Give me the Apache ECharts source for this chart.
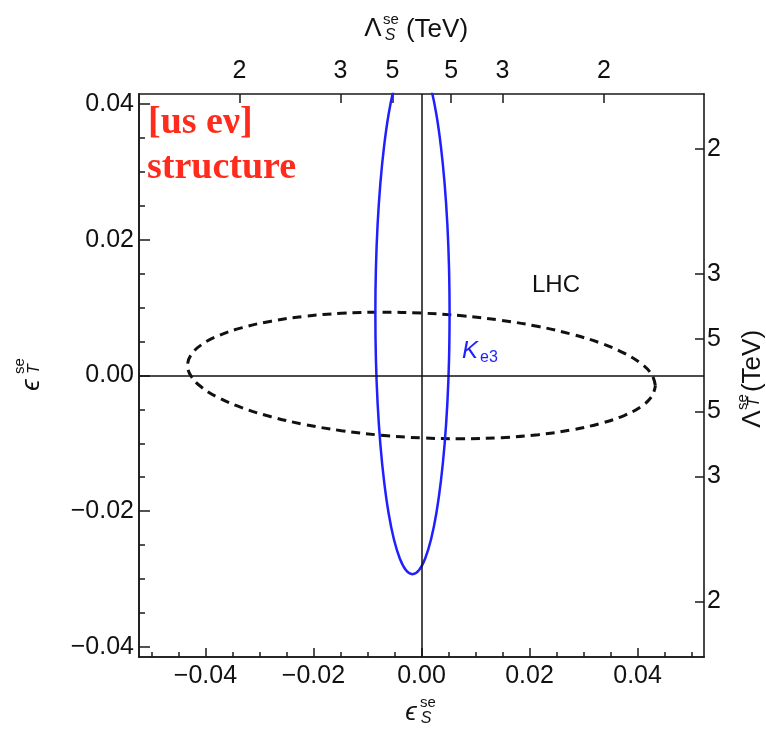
<!DOCTYPE html>
<html>
<head>
<meta charset="utf-8">
<script src="https://cdn.jsdelivr.net/npm/echarts@6/dist/echarts.min.js"></script>
<style>html,body{margin:0;padding:0;background:#fff}#c{width:766px;height:736px}</style>
</head>
<body>
<div id="c"></div>
<script>
// ---- data ----
const xMajorTicks = [-0.04, -0.02, 0, 0.02, 0.04];
const xMinorTicks = [-0.05, -0.045, -0.04, -0.035, -0.03, -0.025, -0.02, -0.015, -0.01, -0.005, 0,
                     0.005, 0.01, 0.015, 0.02, 0.025, 0.03, 0.035, 0.04, 0.045, 0.05];
const yMajorTicks = [-0.04, -0.02, 0, 0.02, 0.04];
const yMinorTicks = [-0.04, -0.035, -0.03, -0.025, -0.02, -0.015, -0.01, -0.005, 0,
                     0.005, 0.01, 0.015, 0.02, 0.025, 0.03, 0.035, 0.04];
const lambdaSLabels = ['2', '3', '5', '5', '3', '2'];
const lambdaSPos = [-0.0337, -0.0150, -0.0054, 0.0055, 0.0150, 0.0338];
const lambdaTLabels = ['2', '3', '5', '5', '3', '2'];
const lambdaTPos = [0.0334, 0.0150, 0.0054, -0.0053, -0.0149, -0.0333];

// LHC contour (dashed)
const lhcX = [0.0433, 0.04264, 0.04069, 0.0375, 0.03317, 0.02783, 0.02165, 0.01481, 0.00752, 0,
  -0.00752, -0.01481, -0.02165, -0.02783, -0.03317, -0.0375, -0.04069, -0.04264, -0.0433,
  -0.04264, -0.04069, -0.0375, -0.03317, -0.02783, -0.02165, -0.01481, -0.00752, 0,
  0.00752, 0.01481, 0.02165, 0.02783, 0.03317, 0.0375, 0.04069, 0.04264, 0.0433];
const lhcY = [-0.0015, 0.00012, 0.00174, 0.0033, 0.00477, 0.00608, 0.00722, 0.00813, 0.0088, 0.0092,
  0.00932, 0.00916, 0.00872, 0.00801, 0.00706, 0.0059, 0.00456, 0.00307, 0.0015,
  -0.00012, -0.00174, -0.0033, -0.00477, -0.00608, -0.00722, -0.00813, -0.0088, -0.0092,
  -0.00932, -0.00916, -0.00872, -0.00801, -0.00706, -0.0059, -0.00456, -0.00307, -0.0015];

// K_e3 contour (blue)
const ke3X = [0.0052, 0.0051, 0.00479, 0.00428, 0.00359, 0.00275, 0.00177, 0.00068, -0.00048, -0.00167,
  -0.00286, -0.00402, -0.00511, -0.00609, -0.00693, -0.00762, -0.00813, -0.00844, -0.00854,
  -0.00844, -0.00813, -0.00762, -0.00693, -0.00609, -0.00511, -0.00402, -0.00286, -0.00167,
  -0.00048, 0.00068, 0.00177, 0.00275, 0.00359, 0.00428, 0.00479, 0.0051, 0.0052];
const ke3Y = [0.0091, 0.01577, 0.02223, 0.0283, 0.03378, 0.03851, 0.04235, 0.04518, 0.04692, 0.0475,
  0.04692, 0.04518, 0.04235, 0.03851, 0.03378, 0.0283, 0.02223, 0.01577, 0.0091,
  0.00243, -0.00403, -0.0101, -0.01558, -0.02031, -0.02415, -0.02698, -0.02872, -0.0293,
  -0.02872, -0.02698, -0.02415, -0.02031, -0.01558, -0.0101, -0.00403, 0.00243, 0.0091];

const xMin = -0.0523, xMax = 0.0523, yMin = -0.0415, yMax = 0.0415;

// ---- chart ----
const FONT = '"Liberation Sans", Arial, Helvetica, sans-serif';
const SERIF = '"Liberation Serif", "Times New Roman", serif';
const AX = '#1a1a1a';
const zip = (a, b) => a.map((v, i) => [v, b[i]]);
const numFmt = v => {
  const r = Math.round(v * 100) / 100;
  if (r === 0) return '0.00';
  return (r < 0 ? '\u2212' : '') + Math.abs(r).toFixed(2);
};
const lookup = (pos, labels) => v => {
  let best = 0, d = Infinity;
  pos.forEach((p, i) => { const dd = Math.abs(p - v); if (dd < d) { d = dd; best = i; } });
  return labels[best];
};
const lineAx = { show: true, onZero: false, lineStyle: { color: AX, width: 1.6 } };
const lbl = { fontFamily: FONT, fontSize: 25, color: '#111' };
const txt = (x, y, text, font, fill, extra) => Object.assign({
  type: 'text', x: x, y: y,
  style: { text: text, font: font, fill: fill || '#111', textAlign: 'center', textVerticalAlign: 'middle', align: 'center', verticalAlign: 'middle' }
}, extra || {});
const R = { rotation: Math.PI / 2 };

const chart = echarts.init(document.getElementById('c'), null, { renderer: 'canvas' });
chart.setOption({
  animation: false,
  backgroundColor: '#fff',
  grid: { left: 139, top: 94, width: 565, height: 563, containLabel: false, outerBoundsMode: 'none' },
  xAxis: [
    { type: 'value', position: 'bottom', min: xMin, max: xMax, axisLine: lineAx,
      axisTick: { show: true, inside: true, length: 9, customValues: xMajorTicks, lineStyle: { color: AX, width: 1.5 } },
      axisLabel: Object.assign({ show: true, margin: 7, customValues: xMajorTicks, formatter: numFmt }, lbl),
      splitLine: { show: false } },
    { type: 'value', position: 'bottom', min: xMin, max: xMax, axisLine: lineAx,
      axisTick: { show: true, inside: true, length: 5, customValues: xMinorTicks, lineStyle: { color: AX, width: 1.5 } },
      axisLabel: { show: false }, splitLine: { show: false } },
    { type: 'value', position: 'top', min: xMin, max: xMax, axisLine: lineAx,
      axisTick: { show: true, inside: true, length: 9, customValues: lambdaSPos, lineStyle: { color: AX, width: 1.5 } },
      axisLabel: Object.assign({ show: true, margin: 10, customValues: lambdaSPos, formatter: lookup(lambdaSPos, lambdaSLabels) }, lbl),
      splitLine: { show: false } }
  ],
  yAxis: [
    { type: 'value', position: 'left', min: yMin, max: yMax, axisLine: lineAx,
      axisTick: { show: true, inside: true, length: 11, customValues: yMajorTicks, lineStyle: { color: AX, width: 1.5 } },
      axisLabel: Object.assign({ show: true, margin: 5, customValues: yMajorTicks, formatter: numFmt }, lbl),
      splitLine: { show: false } },
    { type: 'value', position: 'left', min: yMin, max: yMax, axisLine: lineAx,
      axisTick: { show: true, inside: true, length: 6, customValues: yMinorTicks, lineStyle: { color: AX, width: 1.5 } },
      axisLabel: { show: false }, splitLine: { show: false } },
    { type: 'value', position: 'right', min: yMin, max: yMax, axisLine: lineAx,
      axisTick: { show: true, inside: true, length: 9, customValues: lambdaTPos, lineStyle: { color: AX, width: 1.5 } },
      axisLabel: Object.assign({ show: true, margin: 3, customValues: lambdaTPos, formatter: lookup(lambdaTPos, lambdaTLabels) }, lbl),
      splitLine: { show: false } }
  ],
  series: [
    { type: 'line', name: 'LHC', xAxisIndex: 0, yAxisIndex: 0, data: zip(lhcX, lhcY),
      showSymbol: false, smooth: 0.4, clip: true, z: 3,
      lineStyle: { color: '#111', width: 3, type: [9, 6] },
      markLine: { silent: true, symbol: ['none', 'none'], label: { show: false },
        lineStyle: { color: '#111', width: 1.5, type: 'solid' },
        data: [{ xAxis: 0 }, { yAxis: 0 }] } },
    { type: 'line', name: 'Ke3', xAxisIndex: 0, yAxisIndex: 0, data: zip(ke3X, ke3Y),
      showSymbol: false, smooth: 0.4, clip: true, z: 4,
      lineStyle: { color: '#1f1fff', width: 2.5 } }
  ],
  graphic: [
    // top axis title  Λ_S^se (TeV)
    txt(373, 29, '\u039B', '26px ' + FONT),
    txt(391, 20, 'se', '15px ' + FONT),
    txt(390, 36, 'S', 'italic 16px ' + FONT),
    txt(437, 30, '(TeV)', '26px ' + FONT),
    // bottom axis title  ε_S^se
    txt(411, 713, '\u03F5', 'italic 26px ' + FONT),
    txt(428, 703, 'se', '15px ' + FONT),
    txt(426, 719, 'S', 'italic 16px ' + FONT),
    // left axis title  ε_T^se (rotated)
    txt(32, 385, '\u03F5', 'italic 26px ' + FONT, null, R),
    txt(20, 366, 'se', '15px ' + FONT, null, R),
    txt(35, 369, 'T', 'italic 16px ' + FONT, null, R),
    // right axis title  Λ_T^se (TeV) (rotated)
    txt(753, 419, '\u039B', '26px ' + FONT, null, R),
    txt(743, 402, 'se', '15px ' + FONT, null, R),
    txt(755, 402, 'T', 'italic 16px ' + FONT, null, R),
    txt(753, 361, '(TeV)', '26px ' + FONT, null, R),
    // annotations
    txt(556, 285, 'LHC', '24px ' + FONT),
    txt(470, 351, 'K', 'italic 24px ' + FONT, '#1f1fff'),
    txt(489, 358, 'e3', '16px ' + FONT, '#1f1fff'),
    { type: 'text', x: 148, y: 123, style: { text: '[us e\u03BD]', font: 'bold 38px ' + SERIF, fill: '#ff2b1c', textAlign: 'left', textVerticalAlign: 'middle', align: 'left', verticalAlign: 'middle' } },
    { type: 'text', x: 147, y: 168, style: { text: 'structure', font: 'bold 38px ' + SERIF, fill: '#ff2b1c', textAlign: 'left', textVerticalAlign: 'middle', align: 'left', verticalAlign: 'middle' } }
  ]
});
</script>
</body>
</html>
